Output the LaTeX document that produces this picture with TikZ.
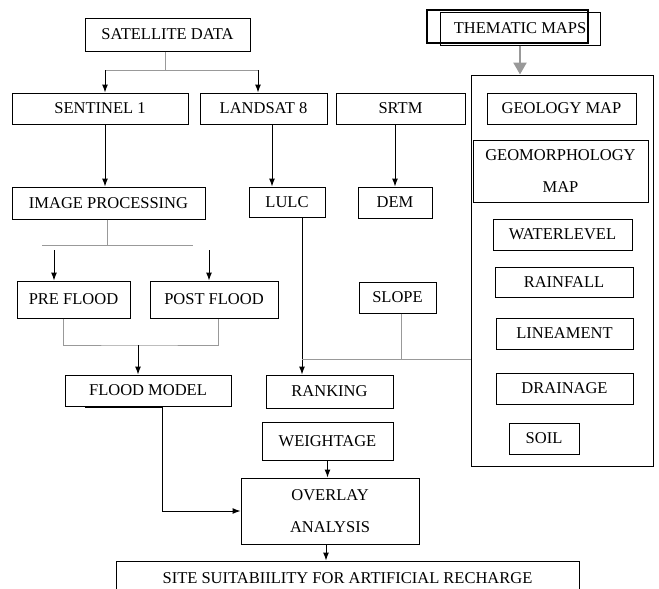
\documentclass[tikz,border=0pt]{standalone}
\usepackage{fontspec}
\setmainfont{Liberation Serif}
\usetikzlibrary{arrows.meta}
\begin{document}
\begin{tikzpicture}[x=1pt,y=-1pt,
  box/.style={draw,line width=1pt,inner sep=0pt,font=\fontsize{16.5}{32}\selectfont},
  arr/.style={-{Latex[length=8pt,width=6pt]},line width=1pt},
  link/.style={draw=gray!80,line width=0.9pt}]
  \useasboundingbox (0,0) rectangle (659,589);
  \node[box,minimum width=165pt,minimum height=33pt] (sat) at (167.5,34.5) {SATELLITE DATA};
  \node[box,minimum width=176pt,minimum height=31pt] (sen1) at (100,108.5) {SENTINEL 1};
  \node[box,minimum width=127pt,minimum height=31pt] (land) at (263.5,108.5) {LANDSAT 8};
  \node[box,minimum width=129pt,minimum height=31pt] (srtm) at (400.5,108.5) {SRTM};
  \node[box,minimum width=193pt,minimum height=32pt] (img) at (108.5,203) {IMAGE PROCESSING};
  \node[box,minimum width=76pt,minimum height=30pt] (lulc) at (287,202) {LULC};
  \node[box,minimum width=74pt,minimum height=31pt] (dem) at (395,202.5) {DEM};
  \node[box,minimum width=113pt,minimum height=37pt] (pre) at (73.5,299.5) {PRE FLOOD};
  \node[box,minimum width=128pt,minimum height=37pt] (post) at (214,299.5) {POST FLOOD};
  \node[box,minimum width=77pt,minimum height=31pt] (slope) at (397.5,297.5) {SLOPE};
  \node[box,minimum width=166pt,minimum height=31pt] (flood) at (148,390.5) {FLOOD MODEL};
  \node[box,minimum width=127pt,minimum height=33pt] (rank) at (329.5,391.5) {RANKING};
  \node[box,minimum width=131pt,minimum height=38pt] (weight) at (327.5,441) {WEIGHTAGE};
  \node[box,minimum width=178pt,minimum height=66pt,align=center] (overlay) at (330,511) {OVERLAY\\ANALYSIS};
  \node[box,minimum width=463pt,minimum height=34pt] (site) at (347.5,578) {SITE SUITABIILITY FOR ARTIFICIAL RECHARGE};
  % thematic maps
  \node[box,minimum width=182pt,minimum height=391pt] (thembox) at (562,270.5) {};
  \node[box,minimum width=160pt,minimum height=33pt] (them) at (520,28.5) {THEMATIC MAPS};
  \node[draw,line width=2.2pt,minimum width=161pt,minimum height=33pt] (themframe) at (507.5,26.5) {};
  \node[box,minimum width=149pt,minimum height=31pt] (geol) at (561.5,108.5) {GEOLOGY MAP};
  \node[box,minimum width=175pt,minimum height=62pt,align=center] (geom) at (560.5,171) {GEOMORPHOLOGY\\MAP};
  \node[box,minimum width=139pt,minimum height=31pt] (water) at (562.5,234.5) {WATERLEVEL};
  \node[box,minimum width=138pt,minimum height=30pt] (rain) at (564,282) {RAINFALL};
  \node[box,minimum width=137pt,minimum height=31pt] (lin) at (564.5,333.5) {LINEAMENT};
  \node[box,minimum width=137pt,minimum height=31pt] (drain) at (564.5,388.5) {DRAINAGE};
  \node[box,minimum width=70pt,minimum height=31pt] (soil) at (544,438.5) {SOIL};
  % satellite split
  \coordinate (satj) at (165,70);
  \coordinate (satl) at (105,70);
  \coordinate (satr) at (258,70);
  \draw[link] (sat.south -| satj) -- (satj);
  \draw[link] (satl) -- (satr);
  \draw[arr] (satl) -- (satl |- sen1.north);
  \draw[arr] (satr) -- (satr |- land.north);
  \draw[arr] (sen1.south -| satl) -- (satl |- img.north);
  \draw[arr] ([xshift=8.5pt]land.south) -- ([xshift=-15pt]lulc.north);
  \draw[arr] (srtm.south -| dem.north) -- (dem.north);
  % flood branch
  \coordinate (imgj) at (107,245);
  \coordinate (splitl) at (42,245);
  \coordinate (splitr) at (193,245);
  \coordinate (prein) at (54,250);
  \coordinate (postin) at (209,250);
  \draw[link] (img.south -| imgj) -- (imgj);
  \draw[link] (splitl) -- (splitr);
  \draw[arr] (prein) -- (prein |- pre.north);
  \draw[arr] (postin) -- (postin |- post.north);
  \coordinate (mergej) at (138,345);
  \draw[link] ([xshift=-10.5pt]pre.south) |- (mergej) -| ([xshift=4pt]post.south);
  \draw[arr] (mergej) -- (mergej |- flood.north);
  % lulc and slope
  \coordinate (lulcj) at (302,359);
  \coordinate (slopej) at (401,359);
  \draw[arr] (lulc.south -| lulcj) -- (lulcj |- rank.north);
  \draw[link] (slope.south -| slopej) -- (slopej);
  \draw[link] (lulcj) -- (lulcj -| thembox.west);
  % overlay
  \draw[arr] ([xshift=14pt]flood.south) |- (overlay.west);
  \draw[line width=2.2pt] ([xshift=-63pt,yshift=-0.6pt]flood.south) -- ([xshift=14pt,yshift=-0.6pt]flood.south);
  \draw[arr] (weight.south) -- (weight.south |- overlay.north);
  \coordinate (ovj) at ([xshift=-4pt]overlay.south);
  \draw[arr] (ovj) -- (ovj |- site.north);
  \draw[draw=gray!80,line width=2.5pt,-{Triangle[length=12pt,width=13pt]}] (them.south) -- (them.south |- thembox.north);
\end{tikzpicture}
\end{document}
